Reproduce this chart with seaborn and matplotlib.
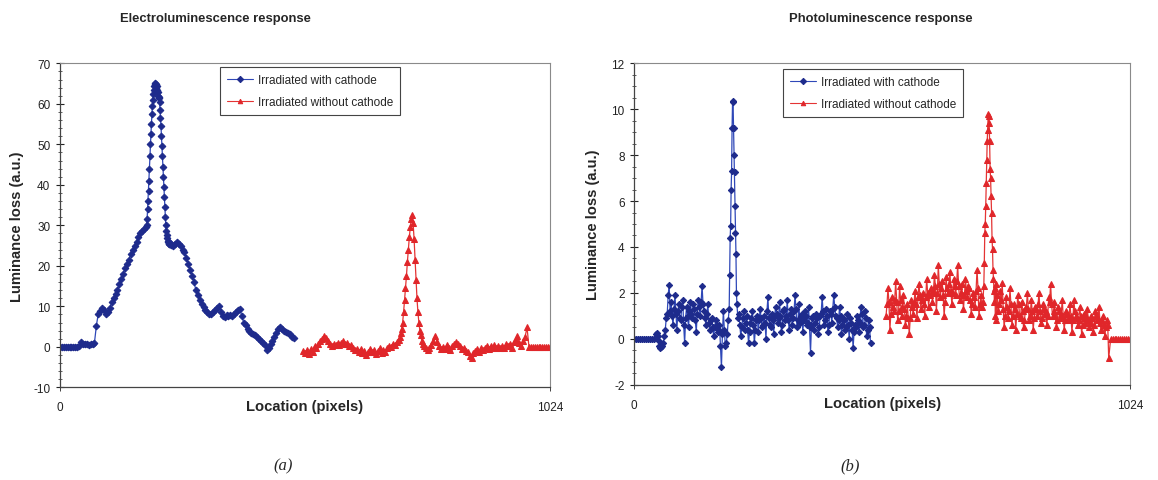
import numpy as np
import pandas as pd
import matplotlib
matplotlib.use("Agg")
import matplotlib.pyplot as plt
from matplotlib.ticker import MultipleLocator
import seaborn as sns

# ---------------- data ----------------
# Electroluminescence, irradiated with cathode
el_cath_loc = np.concatenate([np.arange(0, 180, 4), np.arange(180, 232, 1), np.arange(232, 492, 4)])
el_cath_val = [
    0, 0, 0, 0, 0, 0, 0, 0, 0, 0,
    0.3, 1.2, 0.8, 0.6, 0.7, 0.5, 0.8, 0.6, 1.0, 5.2,
    8.2, 8.8, 9.5, 9.0, 8.0, 8.5, 9.5, 11.0, 12.0, 13.0,
    14.0, 15.5, 16.7, 18.0, 19.5, 20.5, 21.5, 23.0, 24.0, 25.0,
    26.0, 27.0, 28.0, 28.5, 29.0,
    # main peak
    29.5, 30, 31.5, 34, 36, 38.5, 41, 44, 47, 50,
    52.5, 55, 57.5, 59.5, 61, 62.5, 63.5, 64.3, 65, 65.2,
    64.8, 63.8, 64.5, 63.5, 62.8, 62, 61.5, 61.8, 60.5, 58.5,
    56.5, 54.5, 52, 49.5, 47, 44.5, 42, 39.5, 37, 34.5,
    32, 30, 28.5, 27.5, 26.8, 26.2, 25.8, 25.5, 25.3, 25.6,
    25.4, 25.2,
    # tail
    25.5, 25, 25.5, 26, 25.5, 25, 24, 23.5, 22, 20.5,
    19, 17.5, 16, 14, 12.8, 11.5, 10.5, 9.8, 9, 8.5,
    8, 8.2, 8.5, 9, 9.5, 10, 8.5, 7.5, 7.3, 7.8,
    7.5, 7.8, 7.5, 8, 8.5, 9, 9.3, 7.5, 6, 5.5,
    4.5, 4, 3.5, 3.2, 3, 2.5, 2, 1.5, 1, 0.5,
    -0.8, -0.2, 0.8, 1.5, 2.5, 3.5, 4.5, 5, 4.5, 4,
    3.6, 3.5, 3.2, 2.5, 2.2,
]

# Electroluminescence, irradiated without cathode
el_nocath_loc = np.concatenate([np.arange(508, 712, 4), np.arange(710, 762, 2), np.arange(764, 1028, 4)])
el_nocath_val = [
    -1.0, -1.5, -0.8, -1.8, -0.5, -1.2, 0.2, -0.3, 0.8, 1.5,
    2.0, 2.6, 2.2, 1.5, 0.8, 0.3, 0.8, 0.5, 1.0, 0.4,
    0.9, 1.4, 0.6, 1.0, 0.3, 0.5, -0.3, -0.8, -0.5, -1.2,
    -0.6, -1.5, -1.0, -2.0, -1.2, -0.5, -1.3, -0.8, -1.8, -1.0,
    -0.4, -1.5, -0.8, -1.2, -0.2, 0.3, 0.0, 0.8, 0.5, 1.2,
    1.8,
    # peak
    2.5, 3.5, 4.5, 6.0, 8.5, 11.5, 14.5, 17.5, 21.0, 24.0,
    27.0, 29.5, 31.5, 32.5, 30.5, 26.5, 21.5, 16.5, 12.0, 8.5,
    6.0, 4.0, 2.8, 1.5, 0.8, 0.2,
    # tail
    -0.3, -0.8, -0.2, 0.5, 1.5, 2.6, 1.2, 0.2, -0.6, 0.0,
    -0.5, 0.4, -0.3, -0.8, 0.2, 0.6, 1.2, 0.8, 0.2, -0.5,
    -0.2, -1.0, -1.4, -2.2, -2.8, -1.5, -1.0, -0.6, -1.2, -0.3,
    -0.8, -0.2, 0.3, -0.5, 0.2, -0.3, 0.4, -0.2, 0.3, -0.4,
    0.2, -0.2, 0.6, 0.1, 0.8, -0.2, 1.2, 1.8, 2.6, 1.0,
    0.3, 1.5, 2.5, 4.8,
    0, 0, 0, 0, 0, 0, 0, 0, 0, 0, 0, 0,
]

# Photoluminescence, irradiated with cathode
pl_cath_loc = np.concatenate([np.arange(0, 44, 4), np.arange(44, 196, 2),
                              np.arange(196, 213, 1), np.arange(214, 490, 2)])
pl_cath_val = [
    0, 0, 0, 0, 0, 0, 0, 0, 0, 0, 0,
    0.2, 0.25, 0.1, -0.1, -0.3, -0.4, -0.35, -0.3, -0.2, 0.1,
    0.4, 0.9, 1.1, 1.9, 2.35, 1.2, 1.6, 1.0, 0.6, 1.3,
    1.9, 1.1, 0.4, 1.2, 1.5, 0.9, 0.8, 1.4, 1.7, 0.6,
    -0.2, 0.9, 1.4, 1.0, 0.5, 1.2, 1.6, 1.1, 0.9, 1.5,
    1.3, 0.8, 0.3, 1.1, 1.7, 1.4, 1.0, 1.6, 2.3, 1.5,
    1.2, 0.9, 0.6, 1.1, 1.5, 0.7, 0.4, 0.8, 0.9, 0.5,
    0.1, 0.5, 0.8, 0.6, 0.3, 0.4, 0.6, -0.3, -1.25, 0.2,
    1.2, 0.4, -0.3, -0.2, 0.2, 0.8,
    # peak
    1.3, 2.8, 4.4, 4.9, 6.5, 7.3, 9.2, 10.35, 10.3, 9.2,
    8.0, 7.25, 5.8, 4.6, 3.7, 2.0, 1.5,
    # tail
    0.9, 1.1, 0.6, 0.1, 0.5, 0.9, 1.2, 0.4, 0.7, 1.0,
    0.4, -0.2, 0.3, 0.7, 0.9, 1.2, 0.6, -0.2, 0.4, 0.8,
    1.0, 0.3, 0.8, 1.3, 0.9, 0.5, 0.6, 1.0, 0.7, 0.0,
    1.2, 1.8, 0.9, 0.6, 0.5, 1.1, 0.8, 0.2, 1.0, 1.4,
    1.1, 0.7, 0.9, 1.6, 1.0, 0.3, 0.6, 1.2, 1.3, 0.8,
    1.0, 1.7, 0.8, 0.4, 1.1, 1.3, 0.6, 0.9, 1.2, 1.9,
    1.3, 0.5, 0.8, 1.5, 0.7, 1.0, 1.1, 0.3, 0.8, 1.2,
    1.0, 0.6, 0.7, 1.4, 0.5, -0.6, 0.6, 0.9, 1.0, 0.4,
    0.7, 1.1, 0.9, 0.2, 0.5, 1.0, 1.1, 1.8, 1.2, 0.6,
    0.8, 1.3, 1.0, 0.3, 0.6, 1.2, 1.1, 0.7, 1.3, 1.9,
    1.4, 1.0, 0.9, 0.5, 0.8, 1.4, 1.0, 0.2, 0.6, 0.9,
    0.8, 0.4, 0.5, 1.1, 0.6, 0.0, 0.9, 0.7, 0.4, -0.4,
    0.3, 0.6, 0.5, 1.0, 0.8, 0.3, 0.7, 1.4, 1.1, 0.5,
    0.6, 1.2, 0.9, 0.1, 0.4, 0.8, 0.5, -0.2,
]

# Photoluminescence, irradiated without cathode
pl_nocath_loc = np.concatenate([np.arange(520, 722, 2), np.arange(722, 749, 1),
                                np.arange(750, 982, 2), np.arange(984, 1028, 4)])
pl_nocath_val = [
    1.0, 1.5, 2.2, 1.6, 0.4, 1.1, 1.8, 1.4, 1.2, 1.7,
    2.5, 1.6, 0.8, 1.2, 2.3, 1.7, 1.0, 1.4, 1.9, 1.3,
    0.6, 1.0, 1.5, 0.9, 0.2, 0.9, 1.7, 1.4, 1.1, 1.6,
    2.1, 1.5, 0.9, 1.8, 2.4, 1.9, 1.3, 1.7, 2.0, 1.5,
    1.0, 1.8, 2.6, 2.0, 1.4, 1.9, 2.2, 2.0, 1.6, 2.1,
    2.8, 2.3, 1.2, 2.0, 3.2, 2.4, 1.8, 2.2, 2.5, 1.9,
    1.0, 1.6, 2.7, 2.2, 2.0, 2.4, 2.9, 2.1, 1.5, 2.0,
    2.6, 2.3, 1.9, 2.5, 3.2, 2.3, 1.7, 2.0, 2.4, 1.9,
    1.3, 1.9, 2.6, 2.1, 1.8, 2.3, 2.2, 1.7, 1.1, 1.5,
    2.0, 1.8, 1.4, 2.1, 3.0, 2.2, 1.0, 1.5, 1.9, 1.4,
    1.6,
    # peak
    2.3, 3.3, 4.6, 5.0, 5.8, 6.8, 7.8, 8.6, 9.1, 9.8,
    9.7, 9.4, 8.6, 7.4, 7.0, 6.2, 5.5, 4.35, 3.9, 3.0,
    2.6, 2.1, 1.6, 2.2, 1.0, 2.4, 0.8,
    # tail
    1.9, 1.2, 1.5, 2.1, 1.7, 2.45, 1.3, 0.5, 1.0, 1.8,
    1.4, 0.9, 1.2, 2.2, 1.5, 0.6, 1.0, 1.5, 1.3, 0.4,
    1.1, 1.9, 1.5, 1.0, 0.9, 1.6, 1.2, 0.5, 0.8, 1.3,
    1.4, 2.0, 1.3, 0.8, 1.0, 1.7, 1.2, 0.4, 0.9, 1.4,
    1.3, 1.0, 1.5, 2.0, 1.2, 0.7, 0.9, 1.5, 1.3, 1.1,
    1.2, 0.6, 1.0, 1.8, 1.6, 2.4, 1.5, 1.0, 1.2, 1.6,
    1.0, 0.5, 0.8, 1.4, 1.2, 0.9, 1.1, 1.7, 1.0, 0.4,
    0.8, 1.2, 1.1, 0.8, 0.9, 1.5, 1.0, 0.3, 0.8, 1.7,
    1.2, 1.0, 0.9, 0.6, 0.8, 1.4, 1.0, 0.2, 0.6, 1.1,
    0.9, 0.7, 1.0, 1.3, 0.8, 0.5, 0.7, 1.0, 0.9, 0.3,
    0.6, 1.2, 1.0, 0.8, 0.9, 1.4, 0.7, 0.4, 0.8, 1.0,
    0.6, 0.1, 0.5, 0.8, 0.6, -0.85,
    0, 0, 0, 0, 0, 0, 0, 0, 0, 0, 0,
]

series_labels = ["Irradiated with cathode", "Irradiated without cathode"]
panel_titles = ["Electroluminescence response", "Photoluminescence response"]
x_label = "Location (pixels)"
y_label = "Luminance loss (a.u.)"
captions = ["(a)", "(b)"]

# ---------------- style ----------------
sns.set_style("white")
plt.rcParams["font.family"] = ["Liberation Sans", "DejaVu Sans"]
plt.rcParams["axes.unicode_minus"] = False

BLUE_MK = "#1e2b8c"
BLUE_LN = "#2f48b8"
RED_MK = "#e0262a"
RED_LN = "#e43434"

fig = plt.figure(figsize=(11.58, 4.81), dpi=100)
W, H = 1158, 481


def px_axes(x0, x1, y0, y1):
    return fig.add_axes([x0 / W, 1 - y1 / H, (x1 - x0) / W, (y1 - y0) / H])


ax_el = px_axes(60, 550, 64.3, 388.3)
ax_pl = px_axes(634.3, 1130, 64.3, 385.7)

panels = [
    (ax_el, el_cath_loc, el_cath_val, el_nocath_loc, el_nocath_val, (-10, 70), 10, 2,
     (0.327, 0.989), (-0.073, 0.5), 3.4, 4.0),
    (ax_pl, pl_cath_loc, pl_cath_val, pl_nocath_loc, pl_nocath_val, (-2, 12), 2, 0.5,
     (0.300, 0.982), (-0.069, 0.5), 3.2, 3.8),
]

for ax, xc, yc, xn, yn, ylim, major, minor, leg_anchor, ylab_xy, ms_d, ms_t in panels:
    d_c = pd.DataFrame({"loc": xc, "val": yc})
    d_n = pd.DataFrame({"loc": xn, "val": yn})
    sns.lineplot(data=d_c, x="loc", y="val", ax=ax, estimator=None, sort=False,
                 color=BLUE_LN, lw=0.9, marker="D", markersize=ms_d,
                 markerfacecolor=BLUE_MK, markeredgecolor=BLUE_MK,
                 label=series_labels[0])
    sns.lineplot(data=d_n, x="loc", y="val", ax=ax, estimator=None, sort=False,
                 color=RED_LN, lw=0.9, marker="^", markersize=ms_t,
                 markerfacecolor=RED_MK, markeredgecolor=RED_MK,
                 label=series_labels[1])

    ax.set_xlim(0, 1024)
    ax.set_ylim(*ylim)
    ax.set_xticks([0, 1024])
    ax.set_xticklabels(["0", "1024"])
    ax.yaxis.set_major_locator(MultipleLocator(major))
    ax.yaxis.set_minor_locator(MultipleLocator(minor))
    ax.tick_params(axis="y", which="major", direction="inout", length=6, width=0.8,
                   labelsize=8.5, pad=4, left=True, colors="#222222")
    ax.tick_params(axis="y", which="minor", direction="inout", length=3, width=0.6,
                   left=True, color="#444444")
    ax.tick_params(axis="x", which="major", direction="out", length=3, width=0.6,
                   labelsize=8.5, pad=7, bottom=True, colors="#222222")

    for side in ["left", "bottom"]:
        ax.spines[side].set_color("#444444")
        ax.spines[side].set_linewidth(0.9)
    for side in ["top", "right"]:
        ax.spines[side].set_color("#8a8a8a")
        ax.spines[side].set_linewidth(0.8)

    ax.set_xlabel(x_label, fontsize=10.6, fontweight="bold")
    ax.set_ylabel(y_label, fontsize=10.6, fontweight="bold")
    ax.xaxis.set_label_coords(0.5, -0.036)
    ax.yaxis.set_label_coords(*ylab_xy)

    leg = ax.legend(loc="upper left", bbox_to_anchor=leg_anchor, borderaxespad=0,
                    fontsize=8.5, frameon=True, fancybox=False, framealpha=1,
                    edgecolor="#444444", handlelength=2.2, handletextpad=0.4,
                    labelspacing=0.85, borderpad=0.6)
    leg.get_frame().set_linewidth(0.8)
    for h in leg.legend_handles:
        h.set_linewidth(0.8)
        h.set_markersize(3.2)

# panel titles
ax_el.set_title(panel_titles[0], x=(215 - 60) / 490, y=1.132, pad=0,
                fontsize=9.4, fontweight="bold")
ax_pl.set_title(panel_titles[1], x=(881 - 634.3) / 495.7, y=1.133, pad=0,
                fontsize=9.4, fontweight="bold")

# sub-figure captions
for xc_px, cap in zip([283, 850], captions):
    fig.text(xc_px / W, 1 - 466 / H, cap, ha="center", va="center",
             fontsize=12, style="italic", family=["Liberation Serif", "DejaVu Serif"])

fig.savefig("out.png", dpi=100)
